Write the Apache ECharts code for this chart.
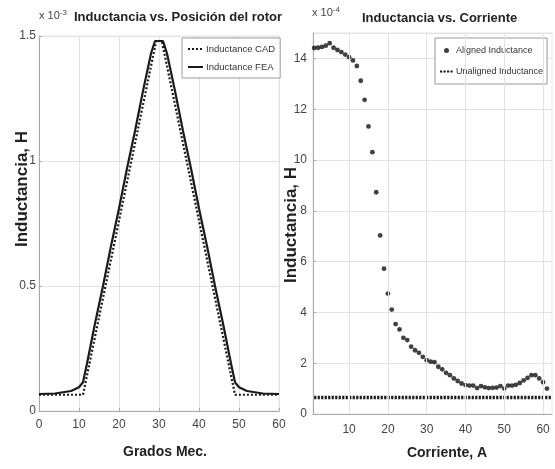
<!DOCTYPE html>
<html>
<head>
<meta charset="utf-8">
<script src="https://cdn.jsdelivr.net/npm/echarts@6/dist/echarts.min.js"></script>
<style>
  html, body { margin: 0; padding: 0; background: #fff; }
  #main { width: 555px; height: 469px; }
</style>
</head>
<body>
<div id="main"></div>
<script>
// left plot: inductance vs rotor position (x 1e-3 H)
const gradosFEA = [0, 4, 8, 10, 11, 12, 14, 16, 18, 20, 22, 24, 26, 28, 29, 31, 32, 34, 36, 38, 40, 42, 44, 46, 48, 49, 50, 52, 56, 60]
const inductFEA = [0.068, 0.07, 0.08, 0.095, 0.115, 0.19, 0.35, 0.5, 0.66, 0.81, 0.97, 1.12, 1.28, 1.43, 1.48, 1.48, 1.43, 1.28, 1.12, 0.97, 0.81, 0.66, 0.5, 0.35, 0.19, 0.115, 0.095, 0.08, 0.07, 0.068]
const gradosCAD = [0, 11, 29.3, 30.7, 49, 60]
const inductCAD = [0.065, 0.065, 1.48, 1.48, 0.065, 0.065]
const leftXTicks = [0, 10, 20, 30, 40, 50, 60]
const leftYTicks = [0, 0.5, 1, 1.5]

// right plot: inductance vs current (x 1e-4 H)
const corriente = [1, 2, 3, 4, 5, 6, 7, 8, 9, 10, 11, 12, 13, 14, 15, 16, 17, 18, 19, 20,
  21, 22, 23, 24, 25, 26, 27, 28, 29, 30, 31, 32, 33, 34, 35, 36, 37, 38, 39, 40,
  41, 42, 43, 44, 45, 46, 47, 48, 49, 50, 51, 52, 53, 54, 55, 56, 57, 58, 59, 60, 61]
const aligned = [14.41, 14.42, 14.45, 14.5, 14.6, 14.42, 14.33, 14.25, 14.15, 14.05, 13.92, 13.7, 13.12, 12.37, 11.32, 10.31, 8.73, 7.03, 5.72, 4.74,
  4.11, 3.54, 3.33, 3.0, 2.91, 2.65, 2.51, 2.41, 2.25, 2.12, 2.06, 2.04, 1.86, 1.76, 1.62, 1.53, 1.4, 1.3, 1.2, 1.14,
  1.12, 1.12, 1.02, 1.1, 1.05, 1.02, 1.03, 1.04, 1.1, 1.0, 1.12, 1.12, 1.15, 1.22, 1.32, 1.42, 1.53, 1.53, 1.4, 1.25, 1.0]
const unalignedX = [1, 62]
const unaligned = [0.65, 0.65]
const rightXTicks = [10, 20, 30, 40, 50, 60]

const font = 'Liberation Sans, Arial'
const ink = '#1a1a1a'
const gridCol = '#e2e2e2'

const chart = echarts.init(document.getElementById('main'))

const tickLabel = { color: '#444', fontFamily: font, fontSize: 12 }
const noSymbol = { opacity: 0 }

const option = {
  animation: false,
  backgroundColor: '#fff',
  grid: [
    { left: 39, right: 276, top: 36, bottom: 58, show: true, borderColor: '#e6e6e6', borderWidth: 1 },
    { left: 313, right: 3, top: 33, bottom: 55, show: true, borderColor: '#e6e6e6', borderWidth: 1 }
  ],
  legend: [
    {
      left: 182, top: 38, orient: 'vertical',
      data: [
        { name: 'Inductance CAD', itemStyle: noSymbol },
        { name: 'Inductance FEA', itemStyle: noSymbol }
      ],
      itemWidth: 15, itemHeight: 8, itemGap: 8,
      padding: [6, 5, 6, 5],
      borderColor: '#999', borderWidth: 1, backgroundColor: '#fff',
      textStyle: { fontFamily: font, fontSize: 9.5, color: '#333', padding: [0, 0, 0, -2] }
    },
    {
      left: 435, top: 38, orient: 'vertical',
      data: [
        { name: 'Aligned Inductance', icon: 'circle' },
        { name: 'Unaligned Inductance', itemStyle: noSymbol }
      ],
      itemWidth: 13, itemHeight: 5, itemGap: 12,
      padding: [8, 4, 8, 4],
      borderColor: '#999', borderWidth: 1, backgroundColor: '#fff',
      textStyle: { fontFamily: font, fontSize: 9, color: '#333', padding: [0, 0, 0, -2] }
    }
  ],
  xAxis: [
    {
      gridIndex: 0, type: 'value', min: leftXTicks[0], max: leftXTicks[leftXTicks.length - 1], interval: 10,
      axisLine: { lineStyle: { color: '#aaa' } },
      axisTick: { inside: true, length: 3, lineStyle: { color: '#aaa' } },
      axisLabel: { ...tickLabel, margin: 8 },
      splitLine: { lineStyle: { color: gridCol } }
    },
    {
      gridIndex: 1, type: 'value', min: 0.7, max: 62.3,
      axisLine: { lineStyle: { color: '#aaa' } },
      axisTick: { inside: true, length: 3, customValues: rightXTicks, lineStyle: { color: '#aaa' } },
      axisLabel: { ...tickLabel, margin: 10, customValues: rightXTicks },
      splitLine: { show: false }
    }
  ],
  yAxis: [
    {
      gridIndex: 0, type: 'value', min: leftYTicks[0], max: leftYTicks[leftYTicks.length - 1], interval: 0.5,
      axisLine: { show: true, lineStyle: { color: '#aaa' } },
      axisTick: { show: true, inside: true, length: 3, lineStyle: { color: '#aaa' } },
      axisLabel: { ...tickLabel, margin: 3 },
      splitLine: { lineStyle: { color: gridCol } }
    },
    {
      gridIndex: 1, type: 'value', min: 0, max: 15, interval: 2,
      axisLine: { show: true, lineStyle: { color: '#aaa' } },
      axisTick: { show: true, inside: true, length: 3, lineStyle: { color: '#aaa' } },
      axisLabel: { ...tickLabel, margin: 6, showMaxLabel: false },
      splitLine: { lineStyle: { color: gridCol } }
    }
  ],
  series: [
    {
      name: 'Inductance CAD', type: 'line', xAxisIndex: 0, yAxisIndex: 0,
      data: gradosCAD.map((g, i) => [g, inductCAD[i]]),
      symbol: 'none', color: ink,
      lineStyle: { width: 2.2, type: [2, 2], color: ink },
      z: 3
    },
    {
      name: 'Inductance FEA', type: 'line', xAxisIndex: 0, yAxisIndex: 0,
      data: gradosFEA.map((g, i) => [g, inductFEA[i]]),
      symbol: 'none', color: ink,
      lineStyle: { width: 2.2, color: ink },
      z: 4
    },
    {
      name: 'Unaligned Inductance', type: 'line', xAxisIndex: 1, yAxisIndex: 1,
      data: unalignedX.map((c, i) => [c, unaligned[i]]),
      symbol: 'none', color: ink,
      lineStyle: { width: 3.5, type: [2.2, 1.3], color: ink }
    },
    {
      name: 'Aligned Inductance', type: 'scatter', xAxisIndex: 1, yAxisIndex: 1,
      data: corriente.map((c, i) => [c, aligned[i]]),
      symbol: 'circle', symbolSize: 4.8,
      itemStyle: { color: '#111' },
      // grid lines of the right plot, placed on the tick values
      markLine: {
        silent: true, symbol: 'none', label: { show: false },
        lineStyle: { color: gridCol, type: 'solid', width: 1 },
        data: rightXTicks.map(t => ({ xAxis: t }))
      }
    }
  ],
  graphic: [
    {
      type: 'text', left: 74, top: 11,
      style: { text: 'Inductancia vs. Posición del rotor', font: 'bold 13px ' + font, fill: '#222' }
    },
    {
      type: 'text', left: 362, top: 12,
      style: { text: 'Inductancia vs. Corriente', font: 'bold 13px ' + font, fill: '#222' }
    },
    {
      type: 'text', left: 39, top: 9,
      style: {
        text: '{b|x 10}{s|-3}',
        rich: { b: { fontFamily: font, fontSize: 11, fill: '#444', padding: [6, 0, 0, 0] }, s: { fontFamily: font, fontSize: 8, fill: '#444' } }
      }
    },
    {
      type: 'text', left: 312, top: 6,
      style: {
        text: '{b|x 10}{s|-4}',
        rich: { b: { fontFamily: font, fontSize: 11, fill: '#444', padding: [6, 0, 0, 0] }, s: { fontFamily: font, fontSize: 8, fill: '#444' } }
      }
    },
    {
      type: 'text', x: 165, y: 452,
      style: { text: 'Grados Mec.', font: 'bold 14px ' + font, fill: '#222', align: 'center', verticalAlign: 'middle' }
    },
    {
      type: 'text', x: 447, y: 453,
      style: { text: 'Corriente, A', font: 'bold 14px ' + font, fill: '#222', align: 'center', verticalAlign: 'middle' }
    },
    {
      type: 'text', x: 22, y: 189, rotation: Math.PI / 2,
      style: { text: 'Inductancia, H', font: 'bold 17px ' + font, fill: '#222', align: 'center', verticalAlign: 'middle' }
    },
    {
      type: 'text', x: 291, y: 225, rotation: Math.PI / 2,
      style: { text: 'Inductancia, H', font: 'bold 17px ' + font, fill: '#222', align: 'center', verticalAlign: 'middle' }
    }
  ]
}

chart.setOption(option)
</script>
</body>
</html>
